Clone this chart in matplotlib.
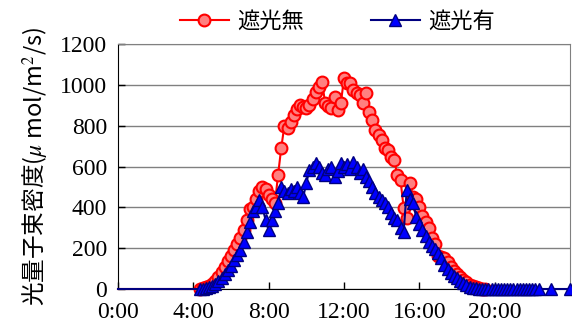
import numpy as np
import matplotlib.pyplot as plt
from matplotlib.ticker import FixedLocator

plt.rcParams['font.family'] = ['Noto Sans CJK JP', 'DejaVu Sans']
plt.rcParams['mathtext.fontset'] = 'stix'

# measurements every 10 min, starting at 4:20
start_hour = 4 + 20 / 60
step_hour = 10 / 60

no_shade = [0, 3, 8, 15, 25, 40, 60, 85, 110, 135,
            160, 190, 220, 250, 290, 340, 390, 400, 440, 480,
            500, 490, 460, 440, 420, 560, 690, 800, 790, 820,
            850, 880, 900, 890, 887, 900, 930, 965, 990, 1014,
            911, 895, 887, 940, 877, 910, 1033, 1010, 1008, 975,
            960, 950, 911, 960, 867, 828, 779, 754, 730, 690,
            680, 647, 630, 558, 534, 397, 348, 519, 451, 440,
            400, 360, 330, 300, 250, 220, 160, 157, 150, 130,
            110, 90, 72, 60, 45, 32, 22, 14, 8, 5,
            2, 0]

shade = [0, 0, 3, 8, 15, 25, 40, 55, 75, 95,
         115, 140, 165, 190, 230, 280, 330, 380, 400, 436,
         400, 340, 289, 338, 380, 421, 500, 480, 470, 490,
         480, 500, 470, 450, 520, 583, 600, 617, 600, 570,
         560, 590, 600, 549, 580, 617, 600, 610, 590, 620,
         600, 570, 590, 549, 530, 500, 470, 450, 436, 421,
         400, 370, 350, 338, 300, 279, 485, 440, 420, 354,
         320, 290, 260, 230, 210, 195, 176, 150, 120, 100,
         80, 65, 55, 40, 28, 20, 12, 7, 4, 2,
         1, 0, 0, 0, 0, 0, 0, 0, 0, 0,
         0, 0, 0, 0, 0, 0, 0, 0, 0]

late_hours = [23.0, 24.0]
late_shade = [0, 0]

t_red = np.concatenate([[0.0], start_hour + step_hour * np.arange(len(no_shade))])
y_red = np.concatenate([[0], no_shade])
t_blue = np.concatenate([[0.0], start_hour + step_hour * np.arange(len(shade)), late_hours])
y_blue = np.concatenate([[0], shade, late_shade])

fig = plt.figure(figsize=(5.72, 3.27), dpi=100)
ax = fig.add_axes([0.2063, 0.1162, 0.7902, 0.7492])

ax.plot(t_red, y_red, color='red', lw=1.5, marker='o', ms=8.5,
        mfc='#ff8080', mec='red', mew=1.5, markevery=list(range(1, len(t_red))),
        label='遮光無', clip_on=False, zorder=3)
ax.plot(t_blue, y_blue, color='#000080', lw=1.5, marker='^', ms=8.5,
        mfc='#0000ff', mec='#000080', mew=1.0, markevery=list(range(1, len(t_blue))),
        label='遮光有', clip_on=False, zorder=4)

ax.set_xlim(0, 24)
ax.set_ylim(0, 1200)
ax.xaxis.set_major_locator(FixedLocator([0, 4, 8, 12, 16, 20]))
ax.set_xticklabels(['0:00', '4:00', '8:00', '12:00', '16:00', '20:00'],
                   family='Liberation Serif', fontsize=17)
ax.set_yticks(range(0, 1201, 200))
ax.set_yticklabels([str(v) for v in range(0, 1201, 200)],
                   family='Liberation Serif', fontsize=17)
ax.tick_params(direction='in', length=5, width=1)
ax.tick_params(axis='x', pad=9)
ax.tick_params(axis='y', pad=8)
ax.yaxis.grid(True, color='#808080', lw=1)
ax.set_axisbelow(True)
for s in ['top', 'right']:
    ax.spines[s].set_color('#808080')
for s in ['left', 'bottom']:
    ax.spines[s].set_color('black')

ax.set_ylabel('光量子束密度($\\mu$ mol/m$^2$/s)', fontsize=17, labelpad=6)

fig.legend(loc='upper center', bbox_to_anchor=(0.59, 1.03), ncol=2,
           frameon=False, fontsize=16, handlelength=2.2, columnspacing=3.0,
           handletextpad=0.4)

fig.savefig('out.png', dpi=100)
